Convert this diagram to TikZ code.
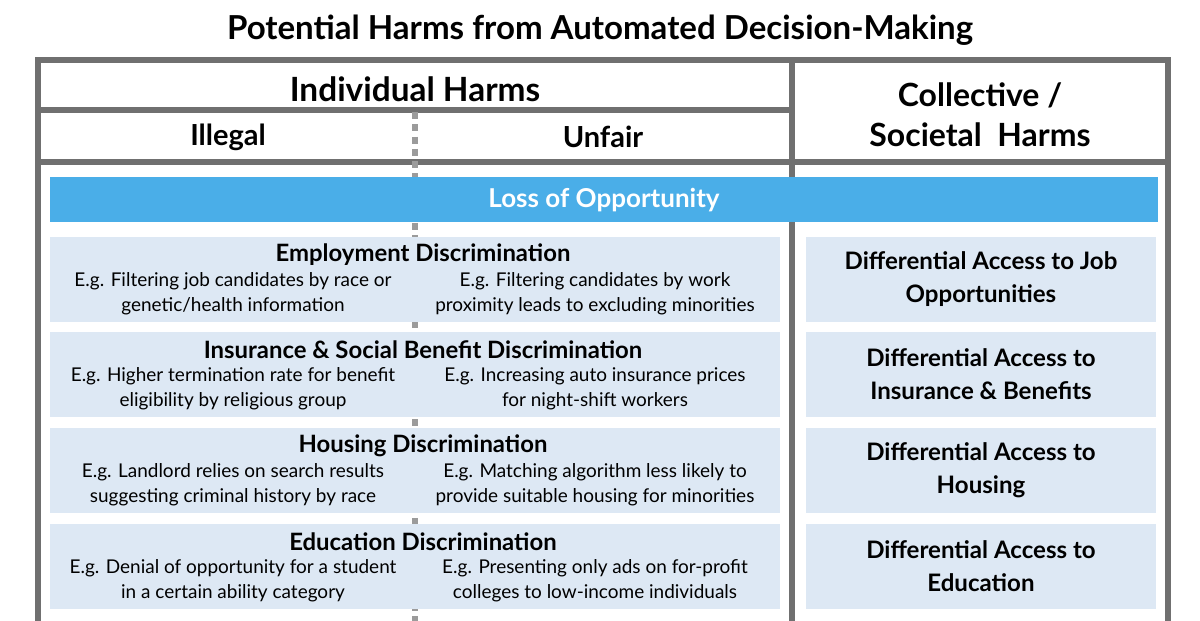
\documentclass[tikz,border=0pt]{standalone}
\usepackage{fontspec}
\setmainfont{Lato}
\definecolor{frame}{HTML}{707070}
\definecolor{barblue}{HTML}{4AAEE8}
\definecolor{boxblue}{HTML}{DDE8F4}
\tikzset{
  harmbox/.style={fill=boxblue, draw=none},
  head/.style={font=\bfseries\fontsize{13.6}{16}\selectfont},
  example/.style={align=center, font=\fontsize{10.8}{14.5}\selectfont},
  colhead/.style={font=\bfseries\fontsize{19}{22}\selectfont, align=center},
  subhead/.style={font=\bfseries\fontsize{16.5}{20}\selectfont},
  societal/.style={font=\bfseries\fontsize{13.7}{19}\selectfont, align=center}
}
\begin{document}
\begin{tikzpicture}[x=0.02cm, y=-0.02cm]
\useasboundingbox (0,0) rectangle (1200,621);

\node[font=\bfseries\fontsize{18.8}{22}\selectfont] (title) at (600,30) {Potential Harms from Automated Decision-Making};

% frame
\begin{scope}[frame, line width=3pt]
\draw (38,621) -- (38,60) -- (1168,60) -- (1168,621);
\draw (792,60) -- (792,621);
\draw (38,110) -- (792,110);
\draw (38,162) -- (1168,162);
\end{scope}
\draw[frame!70, line width=3pt, dash pattern=on 4pt off 3pt] (415,112) -- (415,621);

\node[colhead] (indiv) at (415,89) {Individual Harms};
\node[subhead] (illegal) at (228,137) {Illegal};
\node[subhead] (unfair) at (603,137) {Unfair};
\node[colhead, font=\bfseries\fontsize{18.2}{22.5}\selectfont] (coll) at (980,115) {Collective /\\Societal~ Harms};

% loss of opportunity
\fill[barblue] (50,177) rectangle (1158,222);
\node[white, font=\bfseries\fontsize{14.8}{18}\selectfont] (loss) at (604,200) {Loss of Opportunity};

% rows
\foreach \top/\name/\la/\lb/\ra/\rb/\soc in {
  237/Employment Discrimination/{E.g. Filtering job candidates by race or}/{genetic/health information}/{E.g. Filtering candidates by work}/{proximity leads to excluding minorities}/{Differential Access to Job\\Opportunities},
  332/Insurance \& Social Benefit Discrimination/{E.g. Higher termination rate for benefit}/{eligibility by religious group}/{E.g. Increasing auto insurance prices}/{for night-shift workers}/{Differential Access to\\Insurance \& Benefits},
  428/Housing Discrimination/{E.g. Landlord relies on search results}/{suggesting criminal history by race}/{E.g. Matching algorithm less likely to}/{provide suitable housing for minorities}/{Differential Access to\\Housing},
  524/Education Discrimination/{E.g. Denial of opportunity for a student}/{in a certain ability category}/{E.g. Presenting only ads on for-profit}/{colleges to low-income individuals}/{Differential Access to\\Education}} {
  \fill[harmbox] (50,\top) rectangle (780,\top+85);
  \fill[harmbox] (806,\top) rectangle (1156,\top+85);
  \node[head] (h\top) at (423,\top+18) {\name};
  \node[example] (l\top) at (233,\top+57) {\la\\\lb};
  \node[example] (r\top) at (595,\top+57) {\ra\\\rb};
  \node[societal] (s\top) at (981,\top+42) {\soc};
}
\end{tikzpicture}
\end{document}
